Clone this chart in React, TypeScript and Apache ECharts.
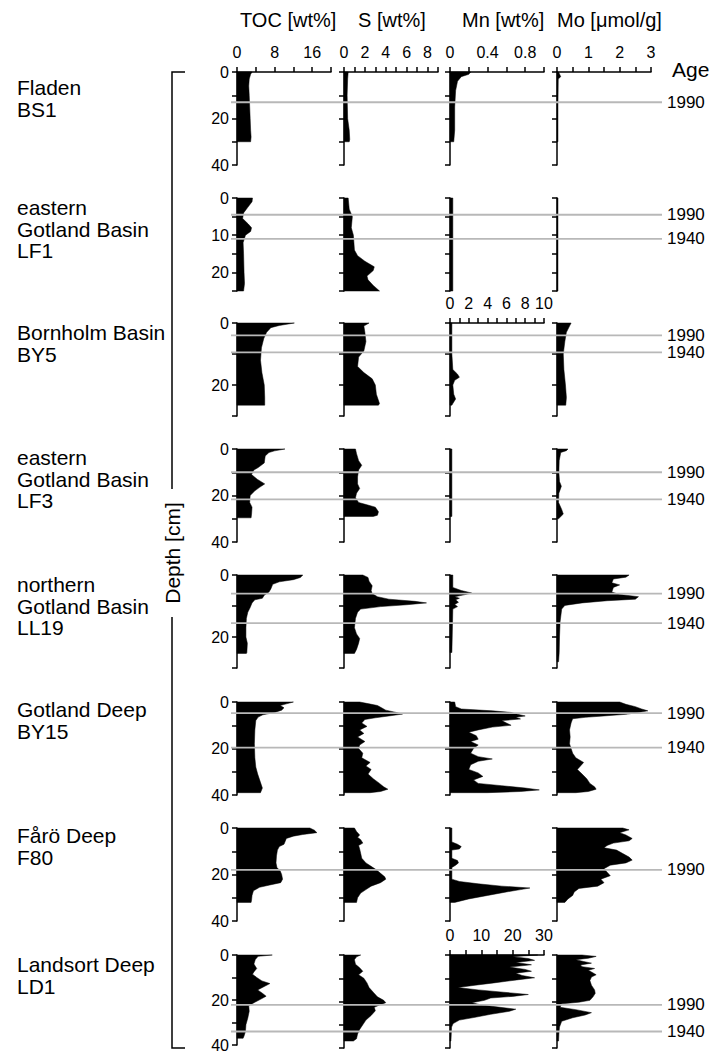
import { useEffect, useRef } from 'react';
import * as echarts from 'echarts';

// ---------- categories ----------
const siteLabels = [
  'Fladen\nBS1',
  'eastern\nGotland Basin\nLF1',
  'Bornholm Basin\nBY5',
  'eastern\nGotland Basin\nLF3',
  'northern\nGotland Basin\nLL19',
  'Gotland Deep\nBY15',
  'Fårö Deep\nF80',
  'Landsort Deep\nLD1',
];
const variableNames = ['TOC [wt%]', 'S [wt%]', 'Mn [wt%]', 'Mo [μmol/g]'];

// ---------- depth axes (cm) per site ----------
const depthMax = [40, 25, 30, 40, 30, 40, 40, 40];
const depthTick = [10, 5, 10, 10, 10, 10, 10, 10];
const depthLabelEvery = [20, 10, 20, 20, 20, 20, 20, 20];

// ---------- value axes ----------
const tocAxis = [0, 20, 4, 8]; // min, max, tick, label step
const sAxis = [0, 9, 1, 2];
const moAxis = [0, 3, 0.5, 1];
const mnMax = [1, 1, 10, 1, 1, 1, 1, 30];
const mnTick = [0.2, 0.2, 1, 0.2, 0.2, 0.2, 0.2, 5];
const mnLabelEvery = [0.4, 0.4, 2, 0.4, 0.4, 0.4, 0.4, 10];
const mnTopAxisRows = [0, 2, 7];

// ---------- age horizons (depth, cm) ----------
const age1990 = [13, 4.5, 4, 10, 6, 4.8, 18, 22.2];
const age1940 = [null, 11, 9.5, 21.7, 15.5, 19.6, null, 34];

// ---------- profiles: [depth cm, value] ----------
const BS1_TOC = [[0,3.2],[1,2.9],[3,2.6],[6,2.5],[10,2.6],[15,2.7],[20,2.8],[25,2.9],[28,3.0],[30,2.9]];
const BS1_S = [[0,0.4],[3,0.35],[10,0.3],[20,0.35],[25,0.5],[29,0.55],[30,0.5]];
const BS1_Mn = [[0,0.22],[1,0.2],[2,0.12],[4,0.08],[8,0.06],[15,0.05],[25,0.05],[30,0.04]];
const BS1_Mo = [[0,0.05],[2,0.12],[3,0.04],[15,0.03],[30,0.03]];

const LF1_TOC = [[0,3.3],[1,3.2],[2.5,2.3],[4,1.4],[5.5,1.2],[7,2.4],[8,3.1],[9,2.9],[10,1.8],[12,1.3],[15,1.4],[20,1.5],[23,1.6],[25,1.4]];
const LF1_S = [[0,0.4],[3,0.5],[5,0.8],[8,0.7],[10,0.9],[14,1.0],[15.5,1.3],[17,2.0],[18.5,2.9],[19.5,2.8],[21,2.2],[22,2.3],[23.5,2.8],[25,3.4]];
const LF1_Mn = [[0,0.03],[8,0.03],[15,0.03],[25,0.03]];
const LF1_Mo = [[0,0.03],[10,0.03],[25,0.03]];

const BY5_TOC = [[0,12.2],[0.8,9],[1.5,7.2],[3,6.3],[5,5.7],[8,5.2],[12,5.0],[16,5.3],[20,5.8],[24,5.9],[26.5,5.9]];
const BY5_S = [[0,2.4],[1,1.9],[3,2.0],[6,2.1],[9,1.9],[11,1.4],[14,1.3],[16,1.9],[18,2.7],[20,3.0],[23,3.1],[26,3.4],[26.5,3.3]];
const BY5_Mn = [[0,0.2],[10,0.2],[15,0.3],[16.5,0.8],[17.5,1.0],[18.5,0.5],[20,0.3],[23,0.4],[24.5,0.6],[26,0.3],[26.5,0.2]];
const BY5_Mo = [[0,0.45],[1,0.4],[3,0.3],[6,0.25],[10,0.2],[15,0.22],[20,0.27],[24,0.3],[26.5,0.28]];

const LF3_TOC = [[0,10.2],[0.8,8],[1.5,6.8],[3,6],[6,5.8],[8,4.5],[9,3.6],[11,3.1],[13,4.3],[15,5.9],[16.5,4.8],[18,3.8],[20,2.8],[23,2.7],[25,3.2],[28,3.1],[29.6,3.0]];
const LF3_S = [[0,1.1],[2,1.2],[5,1.4],[7,1.7],[9,1.4],[12,1.3],[15,1.3],[17,1.5],[19,1.2],[21,1.1],[23,1.4],[24,2.2],[25,3.0],[27,3.3],[28.5,3.2],[29,2.8]];
const LF3_Mn = [[0,0.02],[15,0.02],[29,0.02]];
const LF3_Mo = [[0,0.35],[0.7,0.3],[1.5,0.12],[5,0.07],[10,0.06],[14,0.08],[16,0.14],[19,0.06],[23,0.05],[26,0.15],[28,0.2],[30,0.05]];

const LL19_TOC = [[0,14],[0.8,13.5],[1.5,12],[2.2,9],[3,7.6],[4.5,7.2],[5.5,6.8],[6.5,5.8],[7.5,5.4],[8,3.8],[9,3.2],[10.5,2.8],[12,2.3],[14,2],[17,1.9],[20,1.9],[22,2.2],[25,2.1],[25.3,2.0]];
const LL19_S = [[0,1.8],[0.8,2.3],[2,2.4],[3.5,2.7],[5,2.6],[6,2.7],[7,3.2],[7.8,4.3],[8.5,6.8],[9,7.9],[9.6,6.0],[10.2,3.5],[11,1.6],[12,1.3],[14,1.1],[17,1.0],[19,1.2],[20.5,1.5],[22,1.4],[24,1.2],[25.3,1.0]];
const LL19_Mn = [[0,0.03],[4,0.03],[5,0.12],[5.8,0.23],[6.4,0.15],[7,0.05],[7.5,0.1],[8,0.06],[8.8,0.09],[9.5,0.05],[10.2,0.08],[11,0.03],[25,0.02]];
const LL19_Mo = [[0,2.3],[0.7,2.2],[1.3,1.8],[2.5,1.75],[3.2,2.0],[4,1.8],[5.5,1.75],[6.3,2.0],[7,2.6],[7.8,2.5],[8.3,1.6],[9,0.8],[9.8,0.25],[11,0.15],[15,0.1],[20,0.08],[25,0.07],[28,0.05]];

const BY15_TOC = [[0,12],[0.8,10.5],[1.5,9.2],[2.5,10],[3.5,9.5],[4.5,8],[5.5,5.5],[6.5,4.5],[8,4.0],[12,3.8],[18,3.7],[24,3.8],[28,4.0],[31,4.4],[34,4.9],[37,5.4],[39,5.0]];
const BY15_S = [[0,1.5],[0.8,2.4],[1.5,3.2],[2.5,3.6],[3.5,4.0],[4.5,5.0],[5.2,5.6],[6,4.3],[6.8,3.0],[7.5,2.0],[9,1.7],[10.5,2.2],[12,1.5],[13.5,1.9],[15,1.3],[17,2.0],[18.5,1.5],[20,1.4],[22,1.8],[24,1.7],[26,2.5],[27.5,2.1],[29,2.6],[31,2.3],[33,2.8],[35,3.4],[36.5,3.8],[37.5,4.2],[38.5,3.5],[39,2.5]];
const BY15_Mn = [[0,0.05],[2,0.06],[3,0.12],[3.8,0.45],[4.5,0.65],[5.3,0.72],[6,0.8],[6.6,0.7],[7.3,0.75],[8,0.55],[9,0.6],[10,0.65],[10.8,0.45],[12,0.3],[13,0.2],[14.5,0.28],[16,0.3],[17,0.22],[18.5,0.3],[20,0.25],[22,0.22],[23.5,0.3],[24.5,0.45],[25.5,0.3],[27,0.22],[29,0.2],[30.5,0.3],[32,0.35],[33.5,0.25],[35,0.3],[36,0.55],[37,0.8],[37.8,0.95],[38.5,0.75],[39,0.4]];
const BY15_Mo = [[0,2.0],[1,2.2],[2,2.5],[3,2.7],[3.8,2.9],[4.5,2.6],[5.3,2.2],[6,1.5],[6.6,0.9],[7.2,0.5],[9,0.45],[12,0.4],[15,0.42],[18,0.4],[20,0.45],[22,0.5],[24,0.6],[26,0.85],[27.5,0.75],[29,0.65],[31,0.8],[33,0.95],[35,1.05],[36.5,1.2],[37.5,1.25],[38.5,1.0],[39,0.6]];

const F80_TOC = [[0,15.5],[1,16.5],[2,17],[2.8,14],[3.5,12],[4.5,10.5],[6,10.2],[7,10],[8,9],[9.5,8.6],[12,8.4],[15,8.3],[17,8.5],[18.5,9.2],[20,9.5],[22,9.7],[23.5,9.3],[24.5,7],[25.5,4.8],[27,3.5],[29,3.2],[31,3.1],[32,3.0]];
const F80_S = [[0,1.0],[1.5,1.2],[3,1.5],[4,1.3],[5,1.6],[6.5,1.8],[7.5,1.4],[9,1.5],[11,1.6],[13,1.7],[15,2.1],[16.5,2.6],[18,3.1],[19.5,3.5],[21,3.9],[22,4.0],[23.5,3.5],[25,2.6],[26.5,2.1],[28,1.6],[30,1.3],[32,1.2]];
const F80_Mn = [[0,0.02],[6,0.02],[7,0.08],[8,0.12],[9,0.1],[9.5,0.02],[13,0.02],[14,0.08],[15,0.09],[16,0.06],[17,0.02],[22,0.02],[23,0.1],[24,0.3],[25,0.55],[25.8,0.85],[26.5,0.75],[27.5,0.6],[29,0.4],[30.5,0.2],[32,0.05]];
const F80_Mo = [[0,2.1],[0.8,2.3],[2,2.0],[3,2.2],[4.5,2.4],[5.5,2.3],[6.5,1.8],[7.5,1.6],[8.5,1.5],[9.5,1.9],[11,2.1],[12.5,2.3],[13.8,2.4],[15,2.2],[16,1.7],[17.5,1.5],[19,1.6],[20.5,1.7],[22,1.4],[23.5,1.5],[25,1.3],[26,0.7],[27.5,0.55],[29,0.5],[30.5,0.35],[32,0.25]];

const LD1_TOC = [[0,7.5],[0.6,4.5],[2,3.9],[4,3.6],[6,4.2],[7.5,3.6],[8.5,3.3],[10,4.2],[11.5,5.3],[12.7,7.0],[14,5.8],[15.5,4.4],[17,5.4],[18.3,6.2],[19.7,5.0],[21,3.8],[22.5,2.5],[25,2.6],[28,2.3],[31,1.9],[34,1.8],[36,1.5],[37,1.3]];
const LD1_S = [[0,1.6],[0.8,1.2],[2,1.0],[4,1.1],[5.5,1.5],[7,1.8],[8.5,1.4],[10,1.9],[12,2.2],[14,2.4],[16,2.8],[18,3.2],[19.5,3.8],[20.5,4.0],[21.5,3.4],[22.5,2.9],[24,3.0],[26,2.6],[28,2.1],[30,1.8],[32,1.5],[34,1.3],[36,1.2],[37,0.9]];
const LD1_Mn = [[0,28],[0.7,20],[1.5,25],[2.3,27],[3.2,21],[4.2,26],[5.2,19],[6.2,24],[7,26],[7.8,21],[8.8,23],[9.8,27],[10.6,22],[11.3,18],[12,14],[13,8],[14,2.5],[15,9],[16,17],[17,25],[17.8,20],[18.5,13],[19.5,11],[20.5,7],[21.5,10],[22.5,16],[23.3,21],[24.2,19],[25.5,13],[26.8,8],[28,3],[29.5,1],[31,0.5],[34,0.4],[37,0.3]];
const LD1_Mo = [[0,0.8],[0.6,1.25],[1.4,1.0],[2,0.6],[2.8,0.85],[3.5,1.1],[4.3,0.75],[5,0.8],[5.8,1.2],[6.6,1.0],[7.3,1.1],[8.5,1.25],[9.5,1.1],[11,1.05],[13,1.1],[15,1.2],[16.5,1.22],[18,1.15],[19.5,1.05],[20.3,0.7],[21,0.15],[22.5,0.1],[23.5,0.6],[24.8,1.1],[25.8,0.9],[27,0.5],[28.5,0.15],[31,0.08],[34,0.06],[37,0.05]];

const profiles = [
  [BS1_TOC, BS1_S, BS1_Mn, BS1_Mo],
  [LF1_TOC, LF1_S, LF1_Mn, LF1_Mo],
  [BY5_TOC, BY5_S, BY5_Mn, BY5_Mo],
  [LF3_TOC, LF3_S, LF3_Mn, LF3_Mo],
  [LL19_TOC, LL19_S, LL19_Mn, LL19_Mo],
  [BY15_TOC, BY15_S, BY15_Mn, BY15_Mo],
  [F80_TOC, F80_S, F80_Mn, F80_Mo],
  [LD1_TOC, LD1_S, LD1_Mn, LD1_Mo],
];

// ---------- layout ----------
const ROW_TOP = [72, 198, 323, 449, 575, 702, 828, 955];
const LABEL_Y = [77, 197, 322, 447, 574, 699, 825, 954];
const PANEL_H = 93;
const COL_LEFT = [237, 344, 450, 557];
const PANEL_W = 94;
const HEADER_X = [240, 358, 462, 557];
const FONT = 'Liberation Sans, Arial, sans-serif';

const isStep = (v: number, step: number) => {
  const r = v / step;
  return Math.abs(r - Math.round(r)) < 1e-6;
};
const fmt = (v: number) => String(+v.toFixed(2));

export default function App() {
  const ref = useRef<HTMLDivElement>(null);
  useEffect(() => {
    if (!ref.current) return;
    const chart = echarts.init(ref.current, undefined, { renderer: 'svg' });
    const grid: any[] = [];
    const xAxis: any[] = [];
    const yAxis: any[] = [];
    const series: any[] = [];
    const axisLineStyle = { color: '#000', width: 1.5 };

    for (let i = 0; i < 8; i++) {
      for (let j = 0; j < 4; j++) {
        const k = i * 4 + j;
        grid.push({ left: COL_LEFT[j], top: ROW_TOP[i], width: PANEL_W, height: PANEL_H, containLabel: false });
        let ax = j === 0 ? tocAxis : j === 1 ? sAxis : moAxis;
        if (j === 2) ax = [0, mnMax[i], mnTick[i], mnLabelEvery[i]];
        const showTop = i === 0 || (j === 2 && mnTopAxisRows.includes(i));
        xAxis.push({
          gridIndex: k,
          type: 'value',
          position: 'top',
          min: ax[0],
          max: ax[1],
          interval: ax[2],
          show: showTop,
          axisLine: { show: true, onZero: false, lineStyle: axisLineStyle },
          axisTick: { show: true, length: 5, lineStyle: axisLineStyle },
          splitLine: { show: false },
          axisLabel: {
            show: true,
            margin: 12,
            fontSize: 16,
            color: '#000',
            fontFamily: FONT,
            formatter: (v: number) => (isStep(v, ax[3]) ? fmt(v) : ''),
          },
        });
        yAxis.push({
          gridIndex: k,
          type: 'value',
          inverse: true,
          min: 0,
          max: depthMax[i],
          interval: depthTick[i],
          axisLine: { show: true, onZero: false, lineStyle: axisLineStyle },
          axisTick: { show: true, length: 5, lineStyle: axisLineStyle },
          splitLine: { show: false },
          axisLabel: {
            show: j === 0,
            margin: 8,
            fontSize: 16,
            color: '#000',
            fontFamily: FONT,
            formatter: (v: number) => (isStep(v, depthLabelEvery[i]) ? fmt(v) : ''),
          },
        });
        const prof = profiles[i][j];
        series.push({
          type: 'custom',
          xAxisIndex: k,
          yAxisIndex: k,
          data: prof.map(([d, v]) => [v, d]),
          encode: { x: 0, y: 1 },
          renderItem: (params: any, api: any) => {
            if (params.dataIndex !== 0) return null;
            const pts = prof.map(([d, v]) => api.coord([v, d]));
            const first = api.coord([0, prof[0][0]]);
            const last = api.coord([0, prof[prof.length - 1][0]]);
            return {
              type: 'polygon',
              shape: { points: [first, ...pts, last] },
              style: { fill: '#000', stroke: '#000', lineWidth: 0.5 },
            };
          },
        });
      }
    }

    chart.setOption({
      animation: false,
      backgroundColor: '#fff',
      textStyle: { fontFamily: FONT },
      grid,
      xAxis,
      yAxis,
      series,
    });

    const graphic: any[] = [];
    variableNames.forEach((name, j) => {
      graphic.push({
        type: 'text', x: HEADER_X[j], y: 20,
        style: { text: name, fontSize: 20, fontFamily: FONT, fill: '#000', align: 'left', verticalAlign: 'middle' },
      });
    });
    graphic.push({
      type: 'text', x: 672, y: 69,
      style: { text: 'Age', fontSize: 21, fontFamily: FONT, fill: '#000', align: 'left', verticalAlign: 'middle' },
    });
    siteLabels.forEach((label, i) => {
      graphic.push({
        type: 'text', x: 17, y: LABEL_Y[i],
        style: { text: label, fontSize: 21, lineHeight: 21.5, fontFamily: FONT, fill: '#000', align: 'left', verticalAlign: 'top' },
      });
    });
    const addAge = (depth: number | null, i: number, label: string) => {
      if (depth == null) return;
      const p = chart.convertToPixel({ gridIndex: i * 4 }, [0, depth]) as number[];
      graphic.push({
        type: 'line', shape: { x1: 231, y1: p[1], x2: 662, y2: p[1] },
        style: { stroke: '#b8b8b8', lineWidth: 1.8 }, z: 10,
      });
      graphic.push({
        type: 'text', x: 667, y: p[1],
        style: { text: label, fontSize: 17, fontFamily: FONT, fill: '#000', align: 'left', verticalAlign: 'middle' },
      });
    };
    for (let i = 0; i < 8; i++) {
      addAge(age1990[i], i, '1990');
      addAge(age1940[i], i, '1940');
    }
    // depth bracket (drawn over the site labels)
    const bx = 172;
    const yTop = ROW_TOP[0];
    const yBot = ROW_TOP[7] + PANEL_H;
    const gapTop = 489, gapBot = 617;
    graphic.push({ type: 'polyline', shape: { points: [[185, yTop], [bx, yTop], [bx, gapTop]] }, style: { stroke: '#000', lineWidth: 1.5, fill: 'none' }, z: 20 });
    graphic.push({ type: 'polyline', shape: { points: [[bx, gapBot], [bx, yBot], [185, yBot]] }, style: { stroke: '#000', lineWidth: 1.5, fill: 'none' }, z: 20 });
    graphic.push({
      type: 'text', x: bx, y: (gapTop + gapBot) / 2, rotation: Math.PI / 2,
      style: { text: 'Depth [cm]', fontSize: 21, fontFamily: FONT, fill: '#000', align: 'center', verticalAlign: 'middle' },
    });

    chart.setOption({ graphic });
    return () => chart.dispose();
  }, []);
  return <div ref={ref} style={{ position: 'absolute', left: 0, top: 0, width: 714, height: 1053, background: '#fff' }} />;
}
